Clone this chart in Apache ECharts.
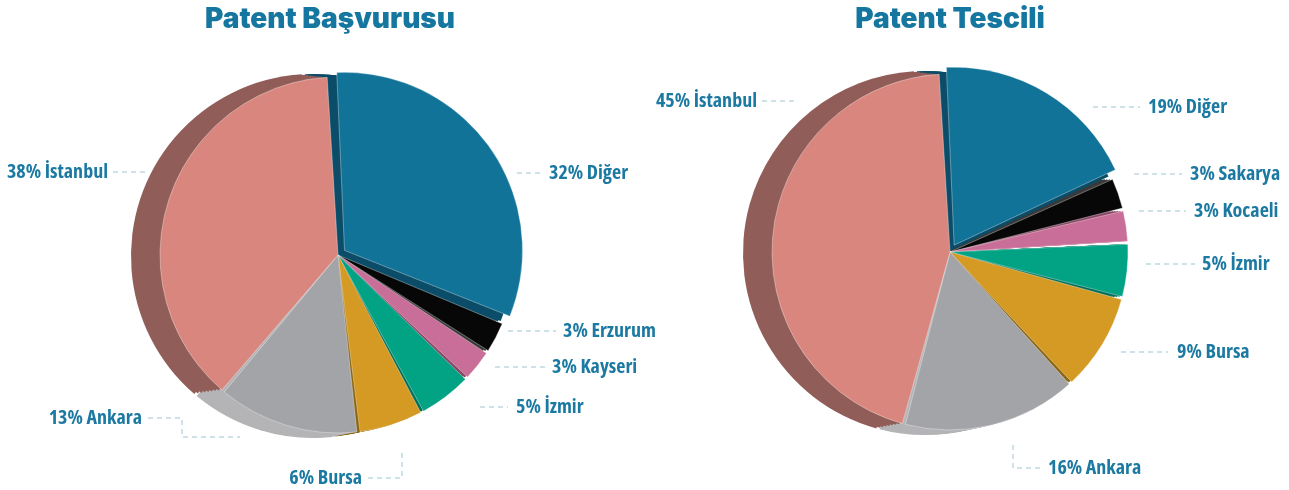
<!DOCTYPE html>
<html lang="tr">
<head>
<meta charset="utf-8">
<script src="https://cdn.jsdelivr.net/npm/echarts@6/dist/echarts.min.js"></script>
<style>
  html, body { margin: 0; padding: 0; background: #fff; }
  #main { width: 1289px; height: 490px; }
</style>
</head>
<body>
<div id="main"></div>
<script>
// data
var titles = ['Patent Başvurusu', 'Patent Tescili'];
var basvuruNames = ['Diğer', 'Erzurum', 'Kayseri', 'İzmir', 'Bursa', 'Ankara', 'İstanbul'];
var basvuruValues = [32, 3, 3, 5, 6, 13, 38];
var tescilNames = ['Diğer', 'Sakarya', 'Kocaeli', 'İzmir', 'Bursa', 'Ankara', 'İstanbul'];
var tescilValues = [19, 3, 3, 5, 9, 16, 45];

// colours by city
var topColor = {
    'Diğer': '#127399', 'Erzurum': '#070707', 'Sakarya': '#070707',
    'Kayseri': '#c86e98', 'Kocaeli': '#c86e98', 'İzmir': '#01a384',
    'Bursa': '#d49a23', 'Ankara': '#a3a4a8', 'İstanbul': '#d9877e'
};
var sideColor = {
    'Diğer': '#0b4d68', 'Erzurum': '#3a3a3a', 'Sakarya': '#3a3a3a',
    'Kayseri': '#8a4866', 'Kocaeli': '#8a4866', 'İzmir': '#006e59',
    'Bursa': '#8c6510', 'Ankara': '#b4b4b7', 'İstanbul': '#915d58'
};

var pies = [
    { names: basvuruNames, values: basvuruValues, center: [338, 255] },
    { names: tescilNames, values: tescilValues, center: [950, 252] }
];

// hand placed label anchors: [x, y, align, line points]
var labelPlaces = [
    [
        [549, 173, 'left', [[517, 173], [541, 173]]],
        [563, 331, 'left', [[508, 331], [556, 331]]],
        [552, 367, 'left', [[495, 367], [546, 367]]],
        [516, 407, 'left', [[480, 407], [508, 407]]],
        [362, 478, 'right', [[368, 478], [402, 478], [402, 452]]],
        [142, 418, 'right', [[148, 418], [182, 418], [182, 437], [240, 437]]],
        [108, 172, 'right', [[113, 172], [147, 172]]]
    ],
    [
        [1148, 107, 'left', [[1093, 107], [1140, 107]]],
        [1190, 174, 'left', [[1134, 174], [1182, 174]]],
        [1194, 211, 'left', [[1139, 211], [1186, 211]]],
        [1202, 264, 'left', [[1146, 264], [1195, 264]]],
        [1177, 352, 'left', [[1121, 352], [1168, 352]]],
        [1048, 468, 'left', [[1013, 445], [1013, 468], [1041, 468]]],
        [757, 101, 'right', [[762, 101], [795, 101]]]
    ]
];

var startAngle = 93;
var radius = 178;
var depthSteps = 8;
var depthX = -25, depthY = 1, depthGrow = 4;
var explode = 8;
var exploded = 'Diğer';

function buildData(p, colors, only) {
    return p.names.map(function (n, i) {
        var hide = only !== undefined && (only ? n !== exploded : n === exploded);
        return {
            name: n,
            value: p.values[i],
            itemStyle: hide ? { color: 'rgba(0,0,0,0)', borderWidth: 0 } : { color: colors[n] }
        };
    });
}

function pieBase(center, r) {
    return {
        type: 'pie',
        animation: false,
        startAngle: startAngle,
        clockwise: true,
        padAngle: 1,
        radius: r,
        center: center
    };
}

var series = [];
pies.forEach(function (p, k) {
    // extruded side layers, deepest first
    for (var s = depthSteps; s >= 1; s--) {
        var t = s / depthSteps;
        series.push(Object.assign(pieBase([p.center[0] + depthX * t, p.center[1] + depthY * t], radius + depthGrow * t), {
            silent: true,
            label: { show: false },
            labelLine: { show: false },
            itemStyle: { borderWidth: 0 },
            data: buildData(p, sideColor)
        }));
    }
    // pulled-out slice
    var total = p.values.reduce(function (a, b) { return a + b; }, 0);
    var idx = p.names.indexOf(exploded);
    var before = p.values.slice(0, idx).reduce(function (a, b) { return a + b; }, 0);
    var mid = (startAngle - (before + p.values[idx] / 2) / total * 360) * Math.PI / 180;
    series.push(Object.assign(pieBase([p.center[0] + explode * Math.cos(mid), p.center[1] - explode * Math.sin(mid)], radius), {
        silent: true,
        label: { show: false },
        labelLine: { show: false },
        itemStyle: { borderColor: 'rgba(255,255,255,0.35)', borderWidth: 1 },
        data: buildData(p, topColor, true)
    }));
    // top face with labels
    series.push(Object.assign(pieBase(p.center, radius), {
        itemStyle: { borderColor: 'rgba(255,255,255,0.35)', borderWidth: 1 },
        label: {
            show: true,
            formatter: function (d) { return d.value + '% ' + d.name; },
            color: '#1b79a2',
            fontFamily: '"Open Sans", "DejaVu Sans Condensed", sans-serif',
            fontWeight: 'bold condensed',
            fontSize: 20,
            overflow: 'none'
        },
        labelLine: {
            show: true,
            lineStyle: { color: '#9fc3d2', type: [5, 4], width: 1 }
        },
        labelLayout: (function (places) {
            return function (params) {
                var pl = places[params.dataIndex];
                return {
                    x: pl[0],
                    y: pl[1],
                    align: pl[2],
                    verticalAlign: 'middle',
                    labelLinePoints: pl[3]
                };
            };
        })(labelPlaces[k]),
        data: buildData(p, topColor, false)
    }));
});

var chart = echarts.init(document.getElementById('main'));
chart.setOption({
    backgroundColor: '#ffffff',
    title: [
        {
            text: titles[0], left: 325, top: 1, textAlign: 'center',
            textStyle: { color: '#15769f', fontFamily: 'Inter, Lato, sans-serif', fontWeight: 900, fontSize: 28 }
        },
        {
            text: titles[1], left: 945, top: 1, textAlign: 'center',
            textStyle: { color: '#15769f', fontFamily: 'Inter, Lato, sans-serif', fontWeight: 900, fontSize: 28 }
        }
    ],
    series: series
});
</script>
</body>
</html>
